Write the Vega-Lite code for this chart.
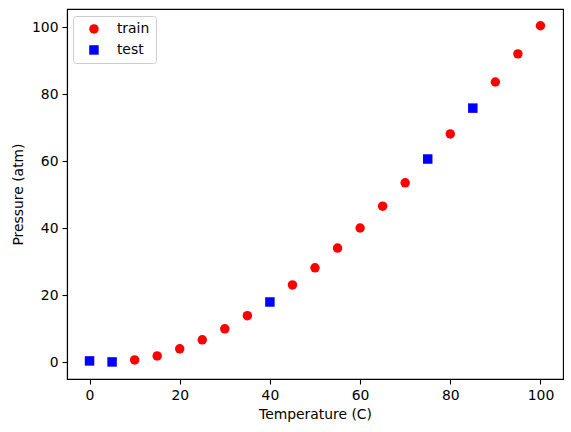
{
  "$schema": "https://vega.github.io/schema/vega-lite/v6.json",
  "width": 496,
  "height": 370,
  "autosize": {"type": "none"},
  "padding": {"left": 67, "top": 9, "right": 8, "bottom": 53},
  "background": "white",
  "data": {
    "values": [
      {"T": 0, "P": 0.4, "set": "test"},
      {"T": 5, "P": 0.1, "set": "test"},
      {"T": 10, "P": 0.7, "set": "train"},
      {"T": 15, "P": 1.9, "set": "train"},
      {"T": 20, "P": 4.0, "set": "train"},
      {"T": 25, "P": 6.7, "set": "train"},
      {"T": 30, "P": 10.0, "set": "train"},
      {"T": 35, "P": 13.9, "set": "train"},
      {"T": 40, "P": 18.0, "set": "test"},
      {"T": 45, "P": 23.1, "set": "train"},
      {"T": 50, "P": 28.2, "set": "train"},
      {"T": 55, "P": 34.1, "set": "train"},
      {"T": 60, "P": 40.1, "set": "train"},
      {"T": 65, "P": 46.6, "set": "train"},
      {"T": 70, "P": 53.6, "set": "train"},
      {"T": 75, "P": 60.7, "set": "test"},
      {"T": 80, "P": 68.2, "set": "train"},
      {"T": 85, "P": 75.9, "set": "test"},
      {"T": 90, "P": 83.7, "set": "train"},
      {"T": 95, "P": 92.1, "set": "train"},
      {"T": 100, "P": 100.5, "set": "train"}
    ]
  },
  "mark": {"type": "point", "filled": true, "opacity": 1, "size": 90},
  "encoding": {
    "x": {
      "field": "T",
      "type": "quantitative",
      "title": "Temperature (C)",
      "scale": {"domain": [-5, 105], "nice": false, "zero": false},
      "axis": {"values": [0, 20, 40, 60, 80, 100]}
    },
    "y": {
      "field": "P",
      "type": "quantitative",
      "title": "Pressure (atm)",
      "scale": {"domain": [-5, 105.5], "nice": false, "zero": false},
      "axis": {"values": [0, 20, 40, 60, 80, 100]}
    },
    "color": {
      "field": "set",
      "type": "nominal",
      "title": null,
      "scale": {"domain": ["train", "test"], "range": ["#ff0000", "#0000ff"]}
    },
    "shape": {
      "field": "set",
      "type": "nominal",
      "title": null,
      "scale": {"domain": ["train", "test"], "range": ["circle", "square"]}
    }
  },
  "config": {
    "font": "DejaVu Sans",
    "view": {"stroke": "black", "strokeWidth": 1.1},
    "axis": {
      "grid": false,
      "domainColor": "black",
      "domainWidth": 1.1,
      "tickColor": "black",
      "tickWidth": 1.1,
      "tickSize": 5,
      "labelFontSize": 13.9,
      "labelColor": "black",
      "labelPadding": 4,
      "titleFontSize": 13.9,
      "titleFontWeight": "normal",
      "titleColor": "black",
      "titlePadding": 6
    },
    "legend": {
      "orient": "none",
      "legendX": 6,
      "legendY": 7,
      "padding": 6,
      "symbolOffset": 8,
      "symbolSize": 90,
      "labelOffset": 16,
      "labelFontSize": 13.9,
      "labelColor": "black",
      "rowPadding": 6,
      "fillColor": "white",
      "strokeColor": "#cccccc",
      "cornerRadius": 3
    }
  }
}
